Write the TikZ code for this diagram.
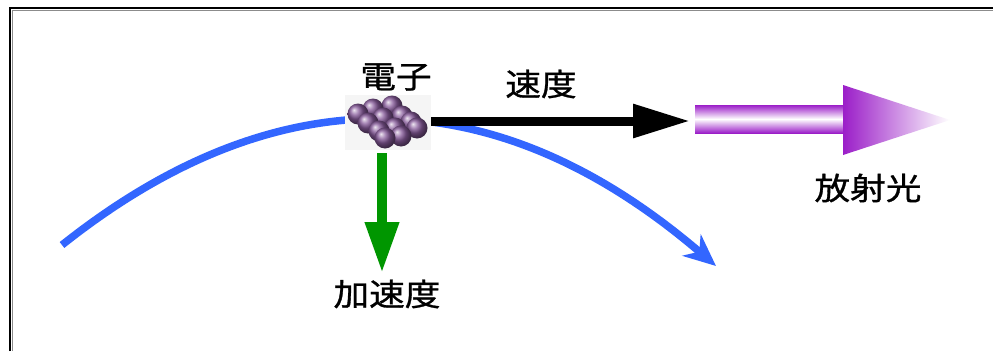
\documentclass[tikz,border=0pt]{standalone}
\usepackage{fontspec}
\setmainfont{Noto Sans CJK JP}[FakeBold=0.9]
\usetikzlibrary{arrows.meta}
\definecolor{orbit}{RGB}{51,102,255}
\definecolor{accel}{RGB}{0,150,0}
\definecolor{rad}{RGB}{155,30,200}
\definecolor{ballc}{RGB}{135,90,155}
\tikzset{
  lbl/.style={font=\fontsize{31pt}{31pt}\selectfont, inner sep=0pt},
  sphere/.style={circle, shading=ball, ball color=ballc, minimum size=21pt, inner sep=0pt}
}
\newcommand{\wide}[1]{\scalebox{1.15}[1]{#1}}
\begin{document}
\begin{tikzpicture}[x=1pt,y=-1pt]
\useasboundingbox (0,0) rectangle (993,351);
\fill[white] (0,0) rectangle (993,351);
% frame (left and top edges)
\draw[black!45, line width=1pt] (12.5,351) -- (12.5,10.5) -- (993,10.5);
\draw[black, line width=2pt] (10,351) -- (10,8) -- (993,8);

% orbit of the electron
\coordinate (orbitL) at (62,245);
\coordinate (orbitR) at (716,266);
\draw[orbit, line width=7.5pt, -{Stealth[length=32pt,width=28pt,inset=10pt]}]
  (orbitL) .. controls (279.7,71.9) and (497.3,78.5) .. (orbitR);

% electron bunch
\node[fill=black!4, minimum width=86pt, minimum height=55pt, inner sep=0pt] (cluster) at (388,122.5) {};
\foreach \x/\y [count=\i] in {392/106,373/109,358/114,402/116,383/118,368/123,411/122,395/128,417/128,379/131,401/136,385/138}
  \node[sphere] (s\i) at (\x,\y) {};

% velocity
\coordinate (vtip) at (690,121);
\draw[black, line width=9pt, -{Triangle[length=57pt,width=32pt]}] (cluster.east |- vtip) -- (vtip);

% acceleration
\coordinate (atip) at (382,273);
\draw[accel, line width=10pt, -{Triangle[length=51pt,width=32pt]}] ([yshift=-3pt]cluster.south -| atip) -- (atip);

% emitted light
\shade[top color=rad, bottom color=rad, middle color=white] (695,105) rectangle (843,133);
\shade[left color=rad, right color=white] (843,85) -- (950,120) -- (843,155) -- cycle;

% labels
\node[lbl] (lelectron) at (396,77) {\wide{電子}};
\node[lbl] (lvel) at (541,84) {\wide{速度}};
\node[lbl] (lrad) at (868,188) {\wide{放射光}};
\node[lbl] (lacc) at (387,294) {\wide{加速度}};
\end{tikzpicture}
\end{document}
